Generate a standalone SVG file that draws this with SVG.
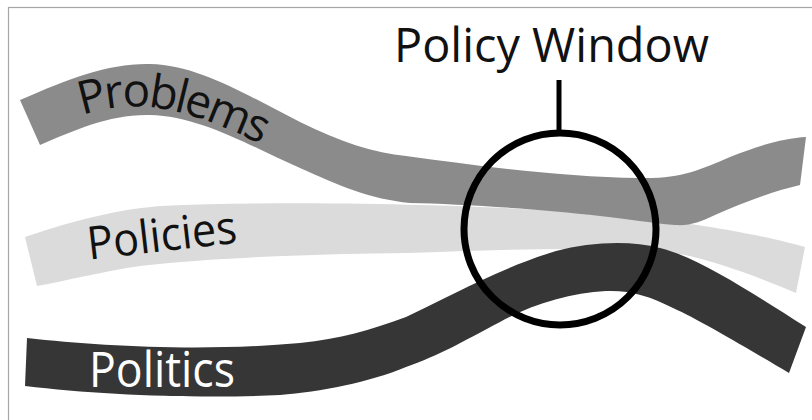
<svg xmlns="http://www.w3.org/2000/svg" width="812" height="420" viewBox="0 0 812 420">
  <style>
    .lbl { font-family: "Open Sans", "Noto Sans", "Liberation Sans", sans-serif; }
    .dark { fill: #111111; }
    .light { fill: #ffffff; }
  </style>
  <defs>
    <path id="problemsBase" d="M 82,115 C 130,100 175,100 272,150"/>
  </defs>
  <rect x="0" y="0" width="812" height="420" fill="#ffffff"/>
  <rect x="8.5" y="7.5" width="830" height="440" fill="none" stroke="#a6a6a6" stroke-width="1.2"/>

  <g id="policies">
    <path fill="#dbdbdb" d="M 25,237 C 60,225 110,210 160,206 C 250,202 350,203 420,205 C 500,207 600,212 690,224 C 740,231 780,240 805,247 L 796,293 C 760,278 720,262 680,254 C 600,245 500,250 406,253 C 300,254 200,259 140,266 C 100,272 70,280 37,286 Z"/>
    <text class="lbl dark" x="89" y="259" font-size="46" textLength="150" lengthAdjust="spacingAndGlyphs" transform="rotate(-6.5 95 259)">Policies</text>
  </g>

  <g id="problems">
    <path fill="#8b8b8b" d="M 20,100 C 70,78 110,63 150,64 C 200,65 250,97 300,122 C 340,142 375,153 406,156 C 480,166 560,177 640,178 C 680,179 700,170 730,157 C 760,145 785,138 806,137 L 800,185 C 770,192 740,204 715,215 C 700,222 690,226 675,225 C 650,223 630,219 600,216 C 540,209 460,204 410,203 C 370,199 340,186 300,168 C 250,146 200,116 150,115 C 110,114 75,130 40,145 Z"/>
    <text class="lbl dark" font-size="46" letter-spacing="-2.5"><textPath href="#problemsBase">Problems</textPath></text>
  </g>

  <g id="politics">
    <path fill="#363636" d="M 27,338 C 100,346 200,352 300,343 C 340,339 370,330 406,317 C 450,296 500,268 556,251 C 590,242 630,240 660,248 C 700,258 750,292 806,327 L 789,373 C 750,350 700,320 673,308 C 650,296 630,290 606,291 C 570,293 530,305 500,322 C 460,343 440,355 406,367 C 370,382 320,392 280,395 C 200,399 100,395 25,386 Z"/>
    <text class="lbl light" x="89" y="387" font-size="49" textLength="146" lengthAdjust="spacingAndGlyphs">Politics</text>
  </g>

  <g id="policy-window">
    <text class="lbl dark" x="394" y="62" font-size="47" textLength="315" lengthAdjust="spacingAndGlyphs">Policy Window</text>
  </g>

  <g id="connectors">
    <line x1="559" y1="80" x2="559" y2="134" stroke="#000000" stroke-width="5"/>
    <circle cx="560" cy="229" r="96" fill="none" stroke="#000000" stroke-width="7"/>
  </g>
</svg>
